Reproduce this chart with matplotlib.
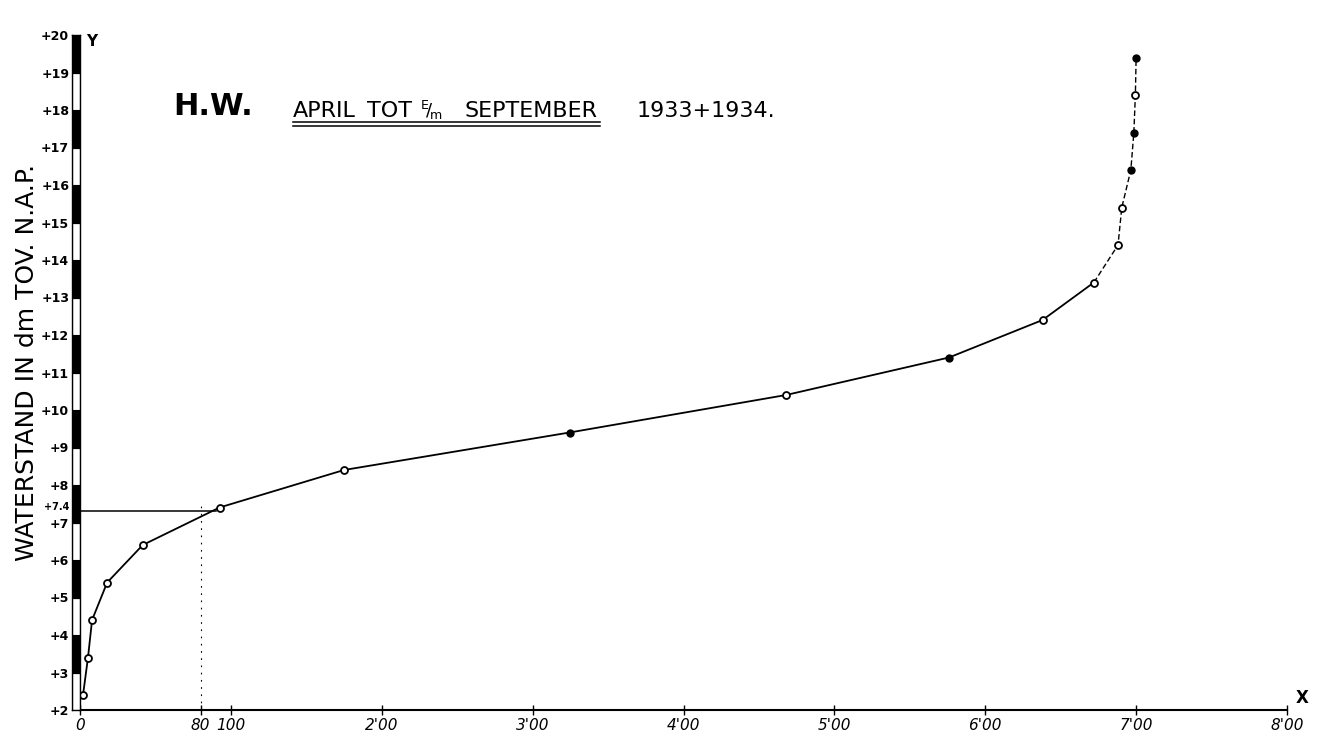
import numpy as np
import matplotlib
matplotlib.use('Agg')
from matplotlib import pyplot as plt
from matplotlib.lines import Line2D

# water levels (dm above N.A.P.) and cumulative count of high waters
levels = [2.4, 3.4, 4.4, 5.4, 6.4, 7.4, 8.4, 9.4, 10.4, 11.4,
          12.4, 13.4, 14.4, 15.4, 16.4, 17.4, 18.4, 19.4]
counts = [2, 5.3, 8, 18, 41.6, 92.5, 175, 324.5, 468, 576,
          638, 672, 688, 690.5, 696.5, 698.5, 699.5, 700]
filled_levels = [9.4, 11.4, 16.4, 17.4, 19.4]

x_ticks = [0, 80, 100, 200, 300, 400, 500, 600, 700, 800]
x_tick_labels = ['0', '80', '100', "2'00", "3'00", "4'00", "5'00", "6'00", "7'00", "8'00"]
y_ticks = list(range(2, 21))
y_tick_labels = ['+' + str(v) for v in y_ticks]

ref_x = 80
ref_y = 7.3
ref_label = '+7.4'

W, H = 1334, 742
fig = plt.figure(figsize=(W / 100, H / 100), dpi=100)


def fx(px):
    return px / W


def fy(py):
    return 1 - py / H


left, right, top, bottom = 80, 1287, 35, 710
ax = fig.add_axes([fx(left), fy(bottom), fx(right) - fx(left), fy(top) - fy(bottom)])
ax.set_xlim(0, 800)
ax.set_ylim(2, 20)
for s in ['top', 'right', 'left']:
    ax.spines[s].set_visible(False)
ax.spines['bottom'].set_linewidth(1.5)
ax.set_yticks([])
ax.set_xticks(x_ticks)
ax.set_xticklabels(x_tick_labels, fontsize=11, style='italic')
ax.tick_params(axis='x', direction='inout', length=7, width=1, pad=2)

# striped scale bar used as y axis
bax = fig.add_axes([fx(72), fy(bottom), fx(left) - fx(72), fy(top) - fy(bottom)])
bax.set_xlim(0, 1)
bax.set_ylim(2, 20)
segs = np.arange(2, 20)
seg_colors = ['white' if v % 2 == 0 else 'black' for v in segs]
bax.bar(0.5, 1, width=1, bottom=segs, color=seg_colors, edgecolor='black', linewidth=0.8)
bax.set_xticks([])
bax.set_yticks(y_ticks)
bax.set_yticklabels(y_tick_labels, fontsize=9, fontweight='bold')
bax.tick_params(axis='y', length=0, pad=2)
for s in bax.spines.values():
    s.set_linewidth(1)
bax.text(-0.3, 7.42, ref_label, ha='right', va='center', fontsize=7, fontweight='bold')

# curve
ax.plot(counts[:12], levels[:12], color='black', lw=1.3, clip_on=False)
ax.plot(counts[11:], levels[11:], color='black', lw=1.0, linestyle=(0, (4, 2)), clip_on=False)
is_filled = np.isin(levels, filled_levels)
cx = np.array(counts)
ly = np.array(levels)
ax.plot(cx[~is_filled], ly[~is_filled], 'o', ms=5, mfc='white', mec='black', mew=1.3, clip_on=False)
ax.plot(cx[is_filled], ly[is_filled], 'o', ms=5, mfc='black', mec='black', clip_on=False)

# reading lines at 80
ax.plot([0, 90], [ref_y, ref_y], color='black', lw=1.1)
ax.plot([ref_x, ref_x], [2, ref_y + 0.2], color='black', lw=0.8, linestyle=(0, (1.5, 5)))

# axis letters and label
fig.text(fx(86), fy(41), 'Y', fontsize=11, fontweight='bold', ha='left', va='center')
fig.text(fx(1296), fy(698), 'X', fontsize=12, fontweight='bold', ha='left', va='center')
fig.text(fx(27), fy(362), 'WATERSTAND IN dm TOV. N.A.P.', rotation=90,
         fontsize=18, ha='center', va='center')

# title
fig.text(fx(173), fy(115), 'H.W.', fontsize=22, fontweight='bold', ha='left', va='baseline')
t1 = fig.text(fx(293), fy(117), 'APRIL', fontsize=16, ha='left', va='baseline')
fig.text(fx(367), fy(117), 'TOT', fontsize=16, ha='left', va='baseline')
fig.text(fx(420), fy(117), r'$^{\mathrm{E}}\!/\!_{\mathrm{m}}$', fontsize=13, ha='left', va='baseline')
t2 = fig.text(fx(465), fy(117), 'SEPTEMBER', fontsize=16, ha='left', va='baseline')
fig.text(fx(637), fy(117), '1933+1934.', fontsize=16, ha='left', va='baseline')

fig.canvas.draw()
r = fig.canvas.get_renderer()
x0 = t1.get_window_extent(r).x0
x1 = t2.get_window_extent(r).x1 + 2
for py in [122, 126]:
    fig.add_artist(Line2D([x0 / W, x1 / W], [fy(py), fy(py)], color='black', lw=1.1,
                          transform=fig.transFigure))

fig.savefig('out.png', dpi=100, facecolor='white')
